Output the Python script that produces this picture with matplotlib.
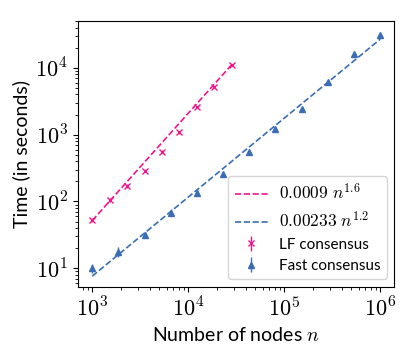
import matplotlib
matplotlib.use("Agg")
import matplotlib.pyplot as plt
from matplotlib.ticker import FuncFormatter
import numpy as np

plt.rcParams['mathtext.fontset'] = 'cm'
plt.rcParams['font.family'] = ['Lato', 'DejaVu Sans']

# LF consensus measurements
lf_n = [1000, 1520, 2310, 3510, 5340, 8110, 12330, 18740, 28480]
lf_time = [53, 105, 171, 289, 557, 1087, 2570, 5130, 10940]
lf_err = [4, 8, 10, 15, 25, 50, 100, 150, 300]

# Fast consensus measurements
fast_n = [1000, 1870, 3510, 6580, 12330, 23100, 43290, 81110, 152000, 284800, 533700, 1000000]
fast_time = [10.0, 17.7, 31.5, 67.9, 135.5, 255, 557, 1205, 2400, 6210, 16000, 30800]
fast_err = [1.5, 3.0, 3.0, 8, 15, 15, 40, 120, 150, 300, 800, 1500]

# fitted power laws (label values, drawn curve)
lf_label = r'$0.0009\ n^{1.6}$'
fast_label = r'$0.00233\ n^{1.2}$'
lf_coef, lf_exp = 0.00078, 1.607
fast_coef, fast_exp = 0.00215, 1.183

pink = '#f0168c'
blue = '#3a6db5'

fig, ax = plt.subplots(figsize=(4.15, 3.56), dpi=100)

x_lf = np.logspace(np.log10(lf_n[0]), np.log10(lf_n[-1]), 100)
x_fast = np.logspace(np.log10(fast_n[0]), np.log10(fast_n[-1]), 100)
ax.plot(x_lf, lf_coef * x_lf ** lf_exp, '--', color=pink, lw=1.2, label=lf_label)
ax.plot(x_fast, fast_coef * x_fast ** fast_exp, '--', color=blue, lw=1.2, label=fast_label)

ax.errorbar(lf_n, lf_time, yerr=lf_err, fmt='x', color=pink, ms=5, mew=1.0,
            elinewidth=1.0, label='LF consensus')
ax.errorbar(fast_n, fast_time, yerr=fast_err, fmt='^', color=blue, ms=5,
            elinewidth=1.0, label='Fast consensus')

ax.set_xscale('log')
ax.set_yscale('log')
ax.set_xlim(10 ** 2.848, 10 ** 6.146)
ax.set_ylim(10 ** 0.72, 10 ** 4.708)

pow10 = FuncFormatter(lambda v, pos: r'$10^{%d}$' % round(np.log10(v)))
ax.xaxis.set_major_formatter(pow10)
ax.yaxis.set_major_formatter(pow10)
ax.tick_params(axis='both', which='major', labelsize=16)
ax.set_xlabel(r'Number of nodes $n$', fontsize=14)
ax.set_ylabel('Time (in seconds)', fontsize=14)

leg = ax.legend(loc='lower right', fontsize=11, handlelength=2.2, handletextpad=0.7)
for t in leg.get_texts()[:2]:
    t.set_fontsize(12.5)

plt.subplots_adjust(left=0.187, right=0.95, top=0.942, bottom=0.194)
plt.savefig('out.png')
